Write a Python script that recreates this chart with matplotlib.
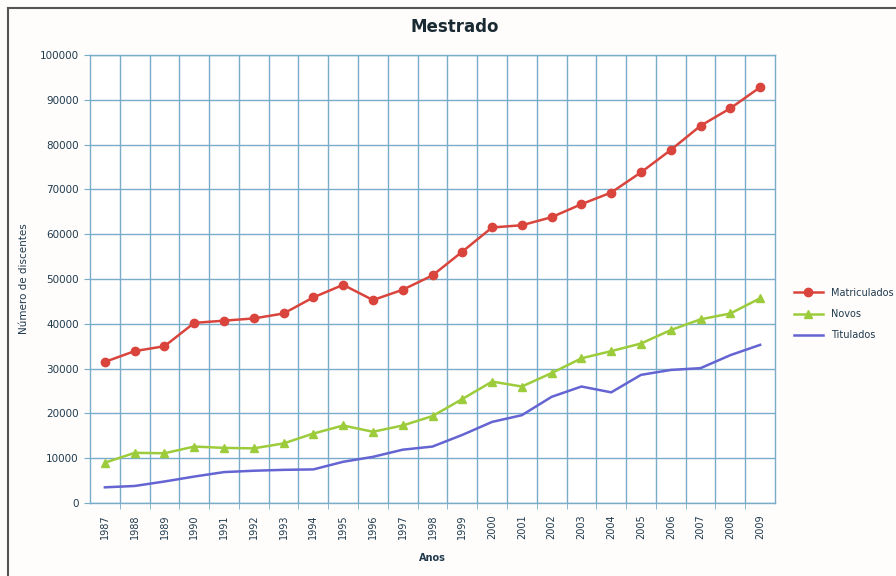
import matplotlib
matplotlib.use("Agg")
import matplotlib.pyplot as plt
from matplotlib.lines import Line2D

years = [str(y) for y in range(1987, 2010)]
matriculados = [31500, 33900, 35000, 40200, 40700, 41200, 42300, 45900, 48700, 45300,
                47600, 50800, 56100, 61500, 62000, 63800, 66700, 69300, 73800, 78800,
                84200, 88100, 92800]
novos = [9000, 11200, 11100, 12600, 12300, 12200, 13300, 15500, 17300, 15900,
         17300, 19400, 23200, 27100, 26000, 29000, 32300, 33900, 35600, 38600,
         41000, 42300, 45700]
titulados = [3500, 3800, 4800, 5900, 6900, 7200, 7400, 7500, 9200, 10300,
             11900, 12600, 15200, 18100, 19600, 23700, 26000, 24700, 28600, 29700,
             30100, 33000, 35300]

plt.rcParams['font.family'] = ['DejaVu Sans']
text_col = '#1f3a4d'
grid_col = '#78acc9'

fig = plt.figure(figsize=(8.96, 5.76), dpi=100)
fig.patch.set_facecolor('#fffdfc')
ax = fig.add_axes([90/896, 1-503/576, (775-90)/896, (503-55)/576])
ax.set_facecolor('#ffffff')

x = list(range(len(years)))
ax.plot(x, matriculados, color='#d9453d', lw=1.8, marker='o', ms=6,
        markerfacecolor='#d9453d', markeredgecolor='#d9453d', label='Matriculados', zorder=3)
ax.plot(x, novos, color='#9ccc3c', lw=1.8, marker='^', ms=6,
        markerfacecolor='#9ccc3c', markeredgecolor='#9ccc3c', label='Novos', zorder=3)
ax.plot(x, titulados, color='#6464d2', lw=1.8, label='Titulados', zorder=3)

ax.set_xlim(-0.5, len(years) - 0.5)
ax.set_ylim(0, 100000)
ax.set_yticks(range(0, 100001, 10000))
ax.set_yticklabels([str(v) for v in range(0, 100001, 10000)], fontsize=7.5, color=text_col)
ax.set_xticks(x)
ax.set_xticklabels(years, rotation=90, fontsize=7, color=text_col)
ax.set_xticks([i + 0.5 for i in x[:-1]], minor=True)
ax.tick_params(axis='x', which='major', length=0, pad=8)
ax.tick_params(axis='x', which='minor', length=4, color=grid_col)
ax.tick_params(axis='y', length=4, color=grid_col, pad=4)
ax.grid(True, axis='y', which='major', color=grid_col, lw=1.0)
ax.grid(True, axis='x', which='minor', color=grid_col, lw=1.0)
ax.set_axisbelow(True)
for s in ax.spines.values():
    s.set_color(grid_col)
    s.set_linewidth(1.0)

ax.set_ylabel('Número de discentes', fontsize=7.5, color=text_col, labelpad=8)
ax.set_xlabel('Anos', fontsize=7, color=text_col, fontweight='bold', labelpad=10)
fig.text(455/896, 1-27/576, 'Mestrado', fontsize=12, fontweight='bold',
         color='#1a2a33', ha='center', va='center')

leg = ax.legend(loc='upper left', bbox_to_anchor=(785/896, 1-279/576),
                bbox_transform=fig.transFigure, frameon=False, fontsize=7,
                handlelength=3, labelspacing=1.15)
for t in leg.get_texts():
    t.set_color(text_col)

# outer border (left and top)
fig.add_artist(Line2D([8/896, 8/896], [0, 1-8/576], transform=fig.transFigure, color='#555555', lw=1.5))
fig.add_artist(Line2D([8/896, 1], [1-8/576, 1-8/576], transform=fig.transFigure, color='#555555', lw=1.5))

fig.savefig('out.png', dpi=100, facecolor=fig.get_facecolor())
